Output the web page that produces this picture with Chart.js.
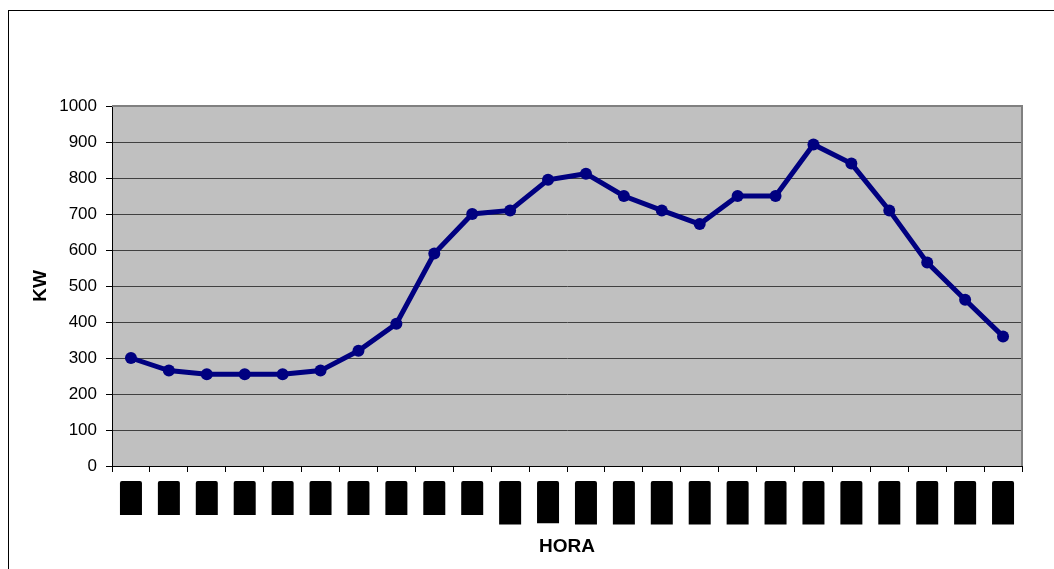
<!DOCTYPE html>
<html>
<head>
<meta charset="utf-8">
<script src="https://cdn.jsdelivr.net/npm/chart.js@4/dist/chart.umd.min.js"></script>
<style>
  html, body { margin: 0; padding: 0; background: #fff; }
  #wrap { width: 1054px; height: 569px; }
</style>
</head>
<body>
<div id="wrap"><canvas id="loadChart" width="1054" height="569"></canvas></div>
<script>
// hourly load profile
const hours = ['0:00', '1:00', '2:00', '3:00', '4:00', '5:00', '6:00', '7:00',
               '8:00', '9:00', '10:00', '11:00', '12:00', '13:00', '14:00', '15:00',
               '16:00', '17:00', '18:00', '19:00', '20:00', '21:00', '22:00', '23:00'];
const kw = [300, 265, 255, 255, 255, 265, 320, 395,
            590, 700, 710, 795, 812, 750, 710, 672,
            750, 750, 893, 840, 710, 565, 462, 360];
const yTicks = [0, 1000, 100]; // min, max, step

const FONT = 'Liberation Sans, Arial, sans-serif';

// grey plot background plus the outer frame line
const frame = {
  id: 'frame',
  beforeDraw(chart) {
    const { ctx, chartArea: a } = chart;
    ctx.save();
    ctx.fillStyle = '#fff';
    ctx.fillRect(0, 0, chart.width, chart.height);
    ctx.strokeStyle = '#000';
    ctx.lineWidth = 1;
    ctx.strokeRect(8.5, 10.5, chart.width + 20, chart.height + 20);
    ctx.fillStyle = '#c0c0c0';
    ctx.fillRect(a.left, a.top, a.right - a.left, a.bottom - a.top);
    ctx.restore();
  },
  beforeDatasetsDraw(chart) {
    const { ctx, chartArea: a } = chart;
    ctx.save();
    ctx.strokeStyle = '#808080';
    ctx.lineWidth = 2;
    ctx.beginPath();
    ctx.moveTo(a.left, a.top);
    ctx.lineTo(a.right, a.top);
    ctx.lineTo(a.right, a.bottom);
    ctx.stroke();
    ctx.restore();
  }
};

// hour labels: rotated text set in solid black blocks under each category
const hourLabels = {
  id: 'hourLabels',
  afterDraw(chart) {
    const { ctx } = chart;
    const x = chart.scales.x;
    const top = x.top + 15;
    ctx.save();
    ctx.font = '17px ' + FONT;
    hours.forEach((h, i) => {
      const cx = x.getPixelForValue(i);
      const len = ctx.measureText(h).width + 1;
      ctx.fillStyle = '#000';
      ctx.beginPath();
      ctx.roundRect(cx - 11, top, 22, len, [2, 2, 0, 0]);
      ctx.fill();
      ctx.save();
      ctx.translate(cx, top);
      ctx.rotate(-Math.PI / 2);
      ctx.textAlign = 'right';
      ctx.textBaseline = 'middle';
      ctx.fillText(h, 0, 0);
      ctx.restore();
    });
    ctx.restore();
  }
};

new Chart(document.getElementById('loadChart').getContext('2d'), {
  type: 'line',
  data: {
    labels: hours,
    datasets: [{
      label: 'KW',
      data: kw,
      borderColor: '#000080',
      backgroundColor: '#000080',
      borderWidth: 5,
      pointRadius: 6,
      pointBackgroundColor: '#000080',
      pointBorderWidth: 0,
      tension: 0
    }]
  },
  options: {
    responsive: false,
    animation: false,
    layout: { padding: { top: 106, right: 32, left: 0, bottom: 0 } },
    plugins: { legend: { display: false }, tooltip: { enabled: false } },
    scales: {
      x: {
        offset: true,
        afterFit(scale) { scale.height = 103; },
        grid: { offset: true, drawOnChartArea: false, drawTicks: true, tickLength: 6, tickColor: '#000' },
        border: { color: '#000', width: 1 },
        ticks: { display: false },
        title: {
          display: true,
          text: 'HORA',
          color: '#000',
          font: { family: FONT, size: 19, weight: 'bold' },
          padding: { top: 0, bottom: 11 }
        }
      },
      y: {
        min: yTicks[0],
        max: yTicks[1],
        afterFit(scale) { scale.width = 112; },
        grid: { color: '#404040', lineWidth: 1, drawTicks: true, tickLength: 6, tickColor: '#000' },
        border: { color: '#000', width: 1 },
        ticks: {
          stepSize: yTicks[2],
          padding: 9,
          color: '#000',
          font: { family: FONT, size: 17 },
          callback: (v) => String(v)
        },
        title: {
          display: true,
          text: 'KW',
          color: '#000',
          font: { family: FONT, size: 19, weight: 'bold' },
          padding: { top: 29, bottom: 0 }
        }
      }
    }
  },
  plugins: [frame, hourLabels]
});
</script>
</body>
</html>
